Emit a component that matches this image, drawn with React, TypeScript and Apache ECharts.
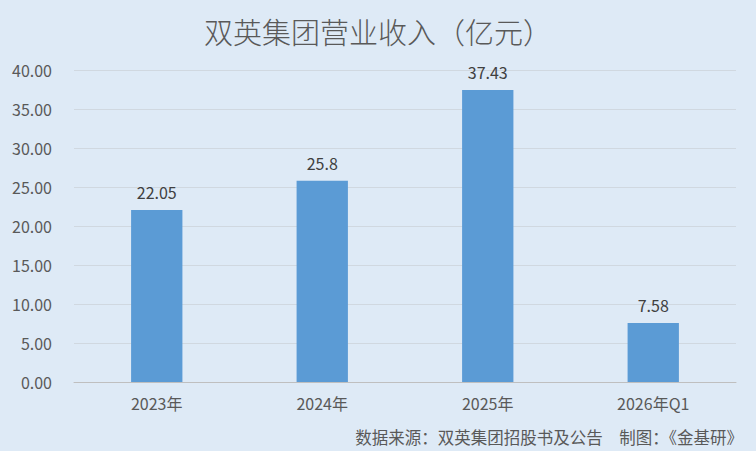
import React, { useEffect, useRef } from "react";
import * as echarts from "echarts";

const categories = ["2023年", "2024年", "2025年", "2026年Q1"];
const revenue = [22.05, 25.8, 37.43, 7.58];
const titleText = "双英集团营业收入（亿元）";
const sourceText = "数据来源：双英集团招股书及公告　制图：《金基研》";

export default function App() {
  const ref = useRef<HTMLDivElement>(null);
  useEffect(() => {
    if (!ref.current) return;
    const chart = echarts.init(ref.current, undefined, { renderer: "svg" });
    const font = "'Noto Sans CJK SC', 'Noto Sans', sans-serif";
    chart.setOption({
      animation: false,
      backgroundColor: "#DEEAF6",
      title: {
        text: titleText,
        left: "center",
        top: 11,
        textStyle: { fontFamily: font, fontSize: 29, fontWeight: 300, color: "#595959" },
      },
      graphic: [
        {
          type: "text",
          right: 13,
          top: 429,
          style: { text: sourceText, font: `16.5px ${font}`, fill: "#595959" },
        },
      ],
      grid: { left: 74, right: 20, top: 70, bottom: 69, containLabel: false },
      xAxis: {
        type: "category",
        data: categories,
        axisTick: { show: false },
        axisLine: { lineStyle: { color: "#BFBFBF" } },
        axisLabel: { color: "#595959", fontSize: 16, fontFamily: font, margin: 13 },
      },
      yAxis: {
        type: "value",
        min: 0,
        max: 40,
        interval: 5,
        axisLine: { show: false },
        axisTick: { show: false },
        splitLine: { lineStyle: { color: "#D0D8E0" } },
        axisLabel: {
          color: "#595959",
          fontSize: 16,
          fontFamily: font,
          margin: 22,
          formatter: (v: number) => v.toFixed(2),
        },
      },
      series: [
        {
          type: "bar",
          data: revenue,
          barWidth: "31%",
          itemStyle: { color: "#5B9BD5" },
          label: {
            show: true,
            position: "top",
            distance: 10,
            color: "#404040",
            fontSize: 16,
            fontFamily: font,
          },
        },
      ],
    });
    return () => chart.dispose();
  }, []);
  return (
    <div
      ref={ref}
      style={{ position: "fixed", left: 0, top: 0, width: 756, height: 451 }}
    />
  );
}
